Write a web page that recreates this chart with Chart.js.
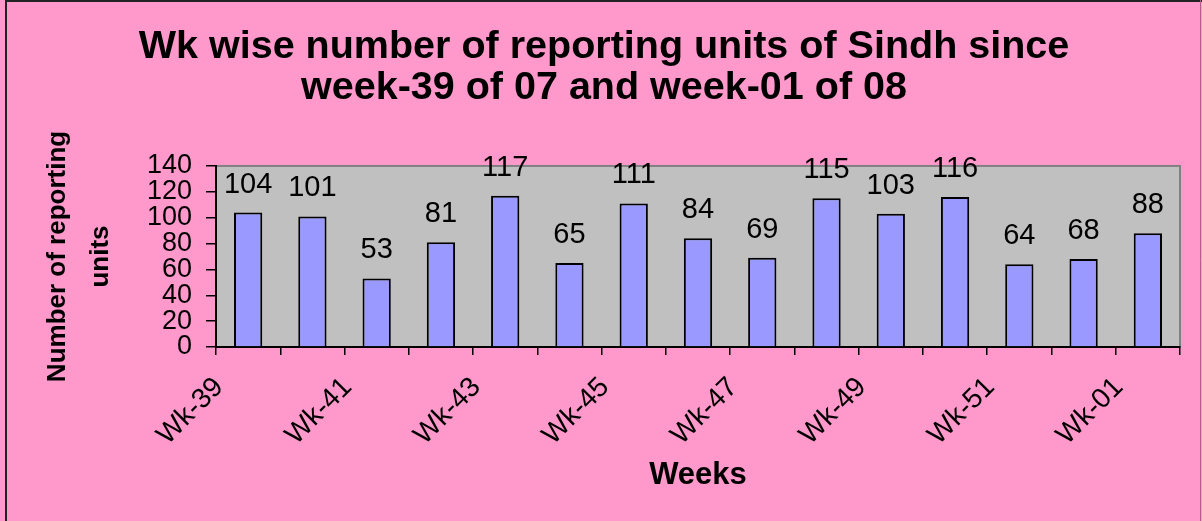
<!DOCTYPE html>
<html>
<head>
<meta charset="utf-8">
<script src="https://cdn.jsdelivr.net/npm/chart.js"></script>
<style>
  html, body { margin: 0; padding: 0; background: #ff99cc; }
  #wrap { width: 1202px; height: 521px; }
</style>
</head>
<body>
<div id="wrap"><canvas id="myChart" width="1202" height="521"></canvas></div>
<script>
const weeks = ['Wk-39', 'Wk-40', 'Wk-41', 'Wk-42', 'Wk-43', 'Wk-44', 'Wk-45', 'Wk-46',
  'Wk-47', 'Wk-48', 'Wk-49', 'Wk-50', 'Wk-51', 'Wk-52', 'Wk-01'];
const reportingUnits = [104, 101, 53, 81, 117, 65, 111, 84, 69, 115, 103, 116, 64, 68, 88];
const yTicks = [0, 20, 40, 60, 80, 100, 120, 140];

// pink page, grey plot area and the thin frame round the whole picture
const backdrop = {
  id: 'backdrop',
  beforeDraw(chart) {
    const { ctx, chartArea: a, width, height } = chart;
    ctx.save();
    ctx.fillStyle = '#ff99cc';
    ctx.fillRect(0, 0, width, height);
    ctx.fillStyle = '#c0c0c0';
    ctx.fillRect(a.left, a.top, a.right - a.left, a.bottom - a.top);
    ctx.strokeStyle = '#808080';
    ctx.lineWidth = 2;
    ctx.strokeRect(a.left, a.top, a.right - a.left, a.bottom - a.top);
    // frame
    ctx.strokeStyle = '#222';
    ctx.lineWidth = 2;
    ctx.beginPath();
    ctx.moveTo(6, height);
    ctx.lineTo(6, 1);
    ctx.lineTo(width, 1);
    ctx.stroke();
    ctx.strokeStyle = '#b0608a';
    ctx.lineWidth = 1;
    ctx.beginPath();
    ctx.moveTo(width - 1.5, 0);
    ctx.lineTo(width - 1.5, height);
    ctx.stroke();
    ctx.restore();
  },
};

// value above each bar
const valueLabels = {
  id: 'valueLabels',
  afterDatasetsDraw(chart) {
    const { ctx } = chart;
    const meta = chart.getDatasetMeta(0);
    ctx.save();
    ctx.font = '29px Arial, "Liberation Sans", sans-serif';
    ctx.fillStyle = '#000';
    ctx.textAlign = 'center';
    ctx.textBaseline = 'alphabetic';
    meta.data.forEach((bar, i) => {
      ctx.fillText(String(reportingUnits[i]), bar.x, bar.y - 20);
    });
    ctx.restore();
  },
};

const ctx = document.getElementById('myChart').getContext('2d');

new Chart(ctx, {
  type: 'bar',
  data: {
    labels: weeks,
    datasets: [{
      data: reportingUnits,
      backgroundColor: '#9999ff',
      borderColor: '#000',
      borderWidth: 2,
      barPercentage: 0.44,
      categoryPercentage: 1,
    }],
  },
  options: {
    responsive: false,
    animation: false,
    layout: { padding: { left: 6, right: 0, top: 0, bottom: 0 } },
    plugins: {
      legend: { display: false },
      tooltip: { enabled: false },
      title: {
        display: true,
        text: ['Wk wise number of reporting units of Sindh since', 'week-39 of 07 and week-01 of 08'],
        color: '#000',
        font: { family: 'Arial, "Liberation Sans", sans-serif', size: 39.5, weight: 'bold', lineHeight: 1.05 },
        padding: { top: 26, bottom: 57 },
      },
    },
    scales: {
      x: {
        grid: { offset: true, drawOnChartArea: false, drawTicks: true, tickLength: 8, color: '#000', lineWidth: 1.5 },
        border: { display: true, color: '#000', width: 2 },
        ticks: {
          autoSkip: false,
          minRotation: 45,
          maxRotation: 45,
          color: '#000',
          padding: 16,
          labelOffset: -29,
          font: { family: 'Arial, "Liberation Sans", sans-serif', size: 28 },
          callback: (v, i) => (i % 2 === 0 ? weeks[i] : ''),
        },
        title: {
          display: true,
          text: 'Weeks',
          color: '#000',
          font: { family: 'Arial, "Liberation Sans", sans-serif', size: 31, weight: 'bold', lineHeight: 1.2 },
          padding: { top: 0, bottom: 27 },
        },
        afterFit(scale) { scale.height = 174; },
      },
      y: {
        min: 0,
        max: 140,
        afterBuildTicks(scale) { scale.ticks = yTicks.map((v) => ({ value: v })); },
        grid: { drawOnChartArea: false, drawTicks: true, tickLength: 10, color: '#000', lineWidth: 1.5 },
        border: { display: true, color: '#000', width: 2 },
        ticks: {
          autoSkip: false,
          color: '#000',
          padding: 14,
          font: { family: 'Arial, "Liberation Sans", sans-serif', size: 27 },
        },
        title: {
          display: true,
          text: ['Number of reporting', 'units'],
          color: '#000',
          font: { family: 'Arial, "Liberation Sans", sans-serif', size: 26, weight: 'bold', lineHeight: 1.65 },
          padding: { top: 30, bottom: 0 },
        },
        afterFit(scale) { scale.width = 210; },
      },
      // empty strip on the right so the plot stops short of the frame
      yRight: {
        position: 'right',
        min: 0,
        max: 140,
        grid: { display: false },
        border: { display: false },
        ticks: { display: false },
        afterFit(scale) { scale.width = 22; },
      },
    },
  },
  plugins: [backdrop, valueLabels],
});
</script>
</body>
</html>
